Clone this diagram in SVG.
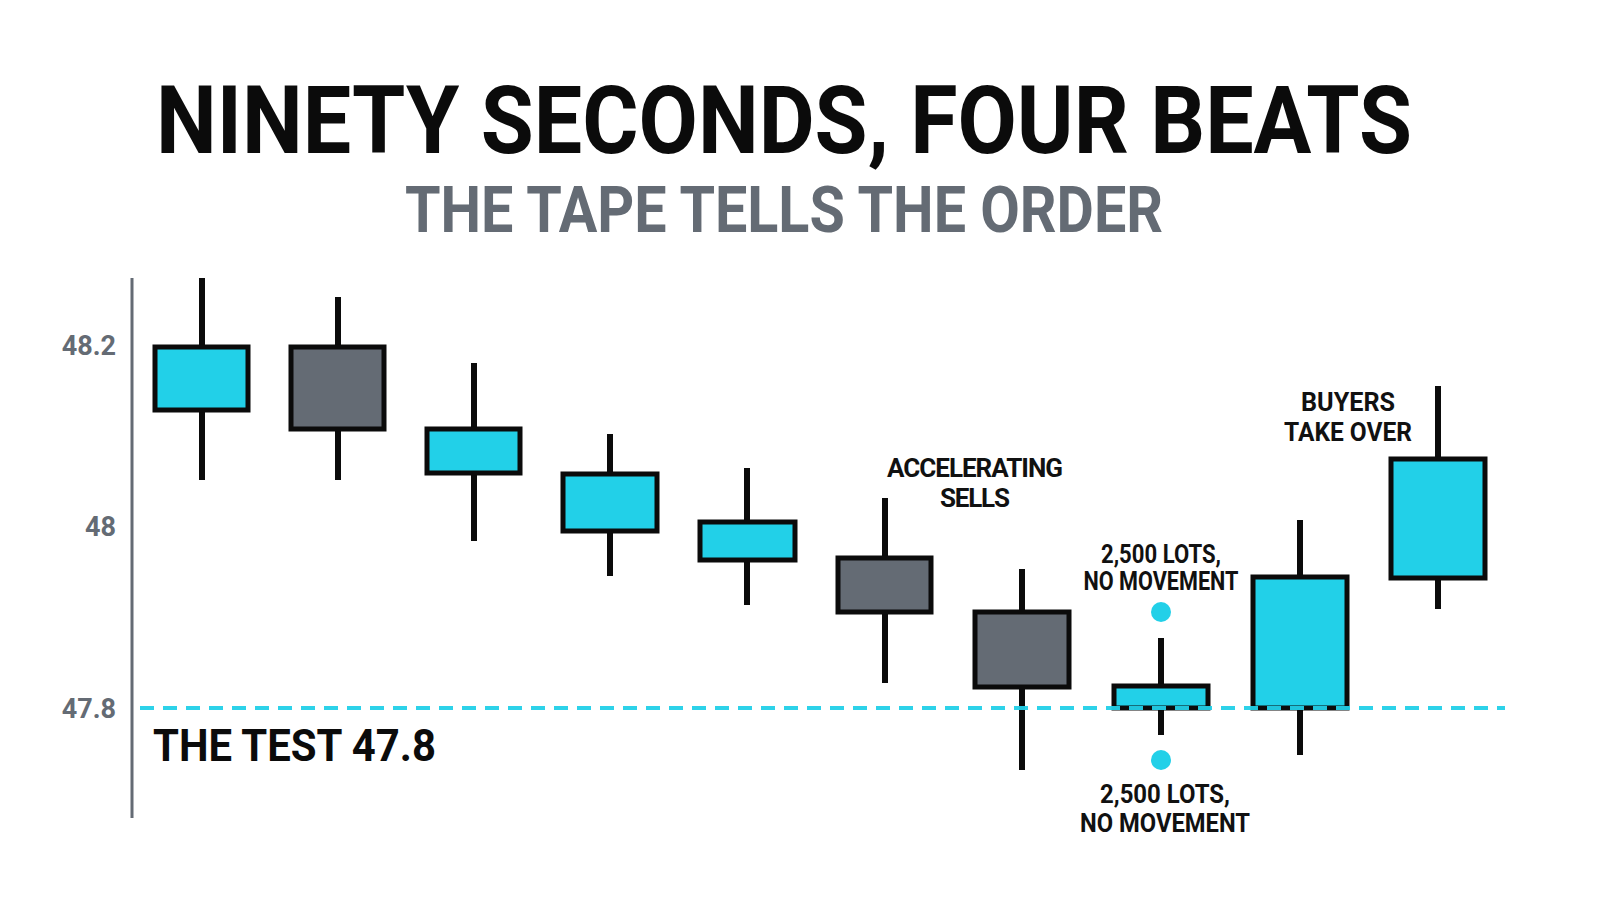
<svg xmlns="http://www.w3.org/2000/svg" width="1600" height="914" viewBox="0 0 1600 914">
<style>
text{font-family:Roboto,"Liberation Sans",sans-serif;font-weight:700}
.t{font-size:94px;fill:#0b0b0b}
.s{font-size:64px;fill:#646b74}
.ax{font-size:27px;fill:#646b74}
.lb{font-size:26px;fill:#111}
.w{stroke:#0b0b0b;stroke-width:6}
.up{fill:#22d0e8;stroke:#0b0b0b;stroke-width:5}
.dn{fill:#646b74;stroke:#0b0b0b;stroke-width:5}
</style>
<rect width="1600" height="914" fill="#fff"/>
<text class="t" x="784" y="153" text-anchor="middle" textLength="1256" lengthAdjust="spacingAndGlyphs">NINETY SECONDS, FOUR BEATS</text>
<text class="s" x="784" y="232" text-anchor="middle" textLength="758" lengthAdjust="spacingAndGlyphs">THE TAPE TELLS THE ORDER</text>
<g id="axis">
<line x1="132" y1="278" x2="132" y2="818" stroke="#646b74" stroke-width="3"/>
<text class="ax" x="116" y="355" text-anchor="end">48.2</text>
<text class="ax" x="116" y="536" text-anchor="end">48</text>
<text class="ax" x="116" y="718" text-anchor="end">47.8</text>
</g>
<g id="c1"><line class="w" x1="202" y1="278" x2="202" y2="480"/><rect class="up" x="155" y="347" width="93" height="63"/></g>
<g id="c2"><line class="w" x1="338" y1="297" x2="338" y2="480"/><rect class="dn" x="291" y="347" width="93" height="82"/></g>
<g id="c3"><line class="w" x1="474" y1="363" x2="474" y2="541"/><rect class="up" x="427" y="429" width="93" height="44"/></g>
<g id="c4"><line class="w" x1="610" y1="434" x2="610" y2="576"/><rect class="up" x="563" y="474" width="94" height="57"/></g>
<g id="c5"><line class="w" x1="747" y1="468" x2="747" y2="605"/><rect class="up" x="700" y="522" width="95" height="38"/></g>
<g id="c6"><line class="w" x1="885" y1="498" x2="885" y2="683"/><rect class="dn" x="838" y="558" width="93" height="54"/></g>
<g id="c7"><line class="w" x1="1022" y1="569" x2="1022" y2="770"/><rect class="dn" x="975" y="612" width="94" height="75"/></g>
<g id="c8"><line class="w" x1="1161" y1="638" x2="1161" y2="735"/><rect class="up" x="1114" y="686" width="94" height="22"/></g>
<g id="c9"><line class="w" x1="1300" y1="520" x2="1300" y2="755"/><rect class="up" x="1253" y="577" width="94" height="131"/></g>
<g id="c10"><line class="w" x1="1438" y1="386" x2="1438" y2="609"/><rect class="up" x="1391" y="459" width="94" height="119"/></g>
<g id="test">
<line x1="140" y1="708" x2="1505" y2="708" stroke="#22d0e8" stroke-width="4" stroke-dasharray="14 9" opacity="0.95"/>
<text x="153" y="761" font-size="44" fill="#0b0b0b" textLength="283" lengthAdjust="spacingAndGlyphs">THE TEST 47.8</text>
</g>
<g id="notes">
<circle cx="1161" cy="612" r="10" fill="#22d0e8"/>
<circle cx="1161" cy="760" r="10" fill="#22d0e8"/>
<text class="lb" text-anchor="middle" lengthAdjust="spacingAndGlyphs"><tspan x="975" y="477" textLength="176">ACCELERATING</tspan><tspan x="975" y="507" textLength="70">SELLS</tspan></text>
<text class="lb" text-anchor="middle"><tspan x="1161" y="563" textLength="120" lengthAdjust="spacingAndGlyphs">2,500 LOTS,</tspan><tspan x="1161" y="590" textLength="155" lengthAdjust="spacingAndGlyphs">NO MOVEMENT</tspan></text>
<text class="lb" text-anchor="middle"><tspan x="1165" y="803" textLength="130" lengthAdjust="spacingAndGlyphs">2,500 LOTS,</tspan><tspan x="1165" y="832" textLength="170" lengthAdjust="spacingAndGlyphs">NO MOVEMENT</tspan></text>
<text class="lb" text-anchor="middle"><tspan x="1348" y="411" textLength="94" lengthAdjust="spacingAndGlyphs">BUYERS</tspan><tspan x="1348" y="441" textLength="128" lengthAdjust="spacingAndGlyphs">TAKE OVER</tspan></text>
</g>
</svg>
